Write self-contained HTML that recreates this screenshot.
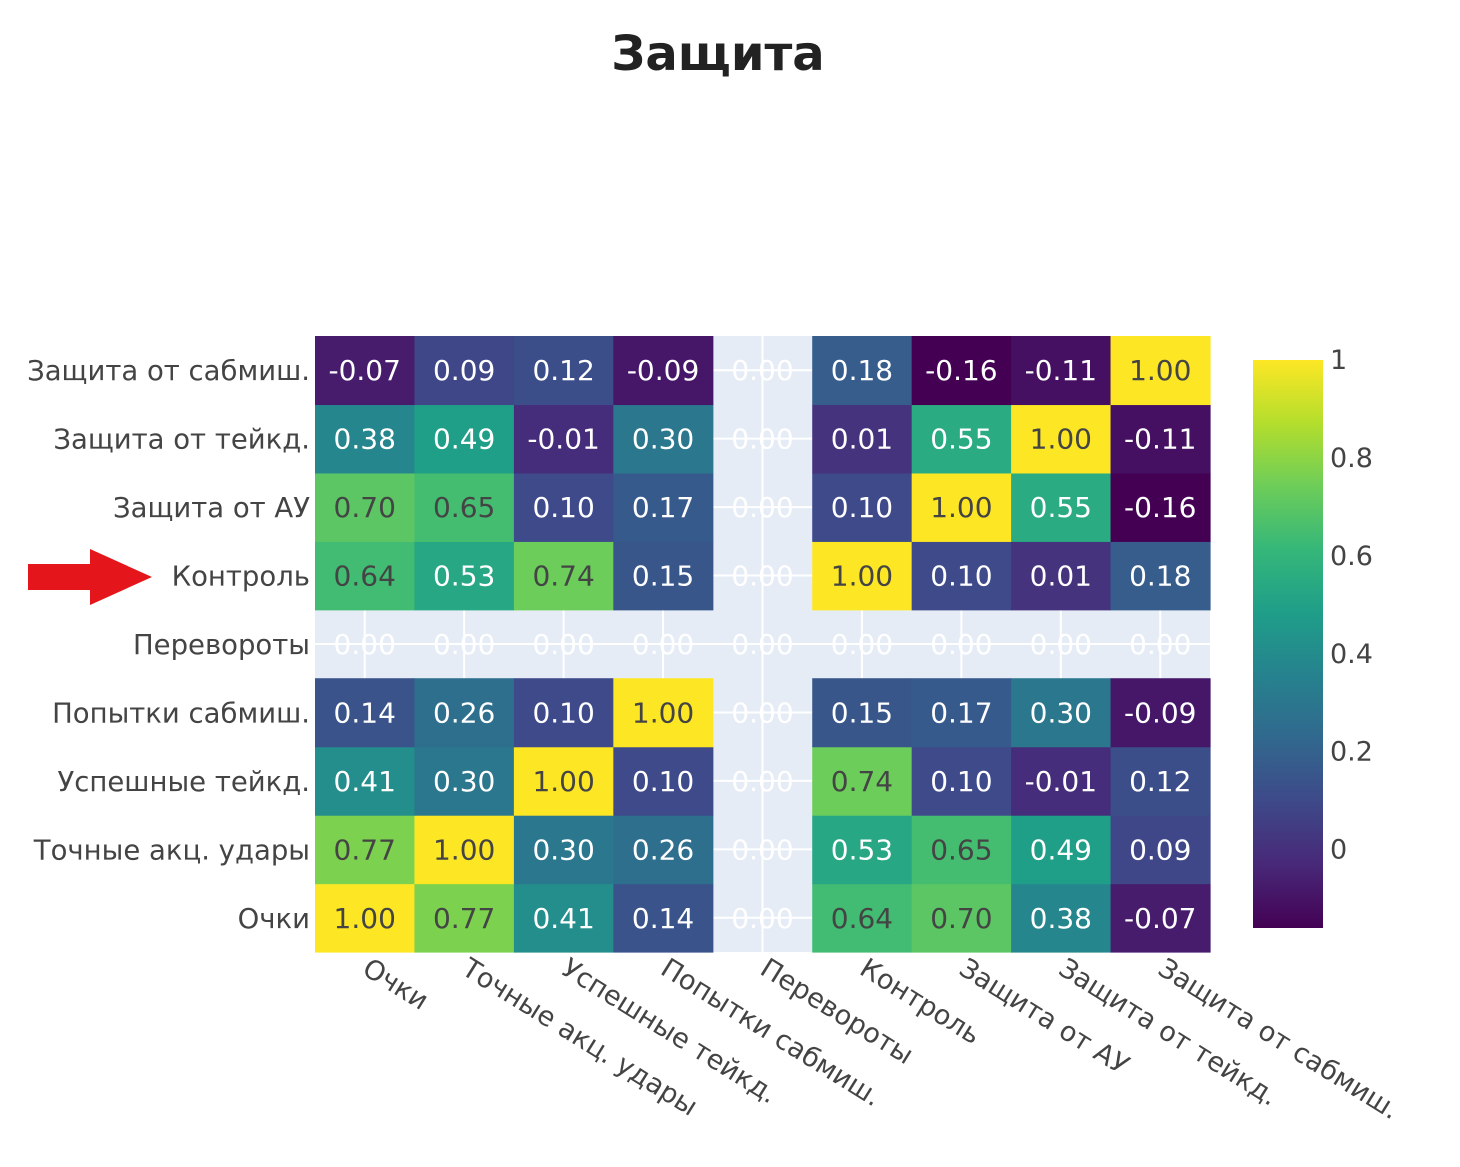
<!DOCTYPE html>
<html><head><meta charset="utf-8"><style>
body{margin:0;background:#fff;width:1460px;height:1162px;overflow:hidden;font-family:"Liberation Sans","DejaVu Sans",sans-serif}
</style></head><body>
<svg id="chart" width="1460" height="1162" xmlns="http://www.w3.org/2000/svg">
<text x="718" y="70" text-anchor="middle" font-size="48" font-weight="bold" fill="#222" font-family="DejaVu Sans, sans-serif">Защита</text>
<g><rect x="28" y="564" width="66" height="26" fill="#e4161b"/><polygon points="90,549 152,577 90,605" fill="#e4161b"/></g>
<g id="plot"></g>
</svg>
<script>
const labels=["Очки","Точные акц. удары","Успешные тейкд.","Попытки сабмиш.","Перевороты","Контроль","Защита от АУ","Защита от тейкд.","Защита от сабмиш."];
const N=null;
const rowOchki=[1.00,0.77,0.41,0.14,N,0.64,0.70,0.38,-0.07];
const rowTochnye=[0.77,1.00,0.30,0.26,N,0.53,0.65,0.49,0.09];
const rowUspeshnye=[0.41,0.30,1.00,0.10,N,0.74,0.10,-0.01,0.12];
const rowPopytki=[0.14,0.26,0.10,1.00,N,0.15,0.17,0.30,-0.09];
const rowPerevoroty=[N,N,N,N,N,N,N,N,N];
const rowKontrol=[0.64,0.53,0.74,0.15,N,1.00,0.10,0.01,0.18];
const rowZashAU=[0.70,0.65,0.10,0.17,N,0.10,1.00,0.55,-0.16];
const rowZashTeik=[0.38,0.49,-0.01,0.30,N,0.01,0.55,1.00,-0.11];
const rowZashSab=[-0.07,0.09,0.12,-0.09,N,0.18,-0.16,-0.11,1.00];
const z=[rowOchki,rowTochnye,rowUspeshnye,rowPopytki,rowPerevoroty,rowKontrol,rowZashAU,rowZashTeik,rowZashSab];
const cbTicks=[0,0.2,0.4,0.6,0.8,1];
const zmin=-0.16,zmax=1;
const X0=315,X1=1210,Y0=336,Y1=952,n=9;
const cw=(X1-X0)/n,ch=(Y1-Y0)/n;
const xc=i=>X0+cw*(i+0.5), yc=j=>Y1-ch*(j+0.5);
const vir=[[68,1,84],[72,40,120],[62,73,137],[49,104,142],[38,130,142],[31,158,137],[53,183,121],[109,205,89],[180,222,44],[253,231,37]];
function col(v){let t=(v-zmin)/(zmax-zmin);t=Math.max(0,Math.min(1,t))*9;const i=Math.min(8,Math.floor(t)),f=t-i;const c=vir[i].map((a,k)=>Math.round(a+(vir[i+1][k]-a)*f));return `rgb(${c})`;}
const NS="http://www.w3.org/2000/svg",g=document.getElementById('plot');
function mk(t,a,p){const e=document.createElementNS(NS,t);for(const k in a)e.setAttribute(k,a[k]);(p||g).appendChild(e);return e;}
const bg=mk('rect',{x:X0,y:Y0,width:X1-X0,height:Y1-Y0,fill:'#e5ecf6'});


for(let i=0;i<n;i++){mk('line',{x1:xc(i),x2:xc(i),y1:Y0,y2:Y1,stroke:'#fff','stroke-width':2});mk('line',{x1:X0,x2:X1,y1:yc(i),y2:yc(i),stroke:'#fff','stroke-width':2});}
for(let j=0;j<n;j++)for(let i=0;i<n;i++){const v=z[j][i];
 if(v!==null){const r=mk('rect',{x:X0+cw*i,y:Y1-ch*(j+1),width:cw+0.6,height:ch+0.6,fill:col(v)});
 
 }
}
for(let j=0;j<n;j++)for(let i=0;i<n;i++){const v=z[j][i];
 const t=mk('text',{x:xc(i),y:yc(j)+10,'text-anchor':'middle','font-size':28,'font-family':'DejaVu Sans, sans-serif',fill:v===null?'#fff':(v>=0.6?'#444':'#fff')});
 t.textContent=(v===null?0:v).toFixed(2);
 
 
}
for(let j=0;j<n;j++){const t=mk('text',{x:310,y:yc(j)+10,'text-anchor':'end','font-size':27.5,'font-family':'DejaVu Sans, sans-serif',fill:'#444'});t.textContent=labels[j];
 
 }
for(let i=0;i<n;i++){const x=xc(i)-4,y=973;const t=mk('text',{x:x,y:y,'font-size':27,'font-family':'DejaVu Sans, sans-serif',fill:'#444',transform:`rotate(32 ${x} ${y})`});t.textContent=labels[i];
 
 }
const CX=1253,CW=70,CT=360,CB=928;
const cy=v=>CB-(v-zmin)/(zmax-zmin)*(CB-CT);
const defs=mk('defs',{});const lg=mk('linearGradient',{id:'vg',x1:0,y1:1,x2:0,y2:0},defs);
vir.forEach((c,k)=>mk('stop',{offset:k/9,'stop-color':`rgb(${c})`},lg));
const cb=mk('rect',{x:CX,y:CT,width:CW,height:CB-CT,fill:'url(#vg)'});


cbTicks.forEach(v=>{const t=mk('text',{x:1330,y:cy(v)+9,'font-size':27,'font-family':'DejaVu Sans, sans-serif',fill:'#444'});t.textContent=String(v);
 
 });
</script>
</body></html>
